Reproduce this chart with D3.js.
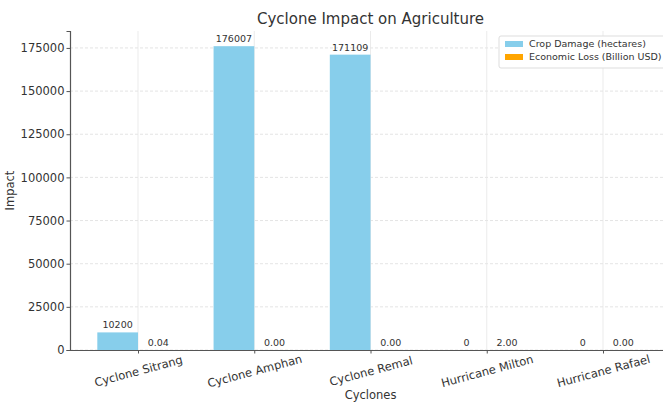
<!DOCTYPE html>
<html><head><meta charset="utf-8">
<script src="https://cdn.jsdelivr.net/npm/d3@7"></script>
<style>body{margin:0;background:#fff}svg{font-family:"DejaVu Sans",sans-serif}</style>
</head><body>
<script>
const categories = ["Cyclone Sitrang","Cyclone Amphan","Cyclone Remal","Hurricane Milton","Hurricane Rafael"];
const cropDamage = [10200,176007,171109,0,0];
const economicLoss = [0.04,0.00,0.00,2.00,0.00];
const yTicks = [0,25000,50000,75000,100000,125000,150000,175000];
const seriesNames = ["Crop Damage (hectares)","Economic Loss (Billion USD)"];
const colors = ["#87CEEB","#FFA500"];

const W=663,H=403;
const m={left:70,right:-8,top:31,bottom:53};
const svg=d3.select("body").append("svg").attr("width",W).attr("height",H);
const iw=W-m.left-m.right, ih=H-m.top-m.bottom;
const g=svg.append("g").attr("transform",`translate(${m.left},${m.top})`);

const bw=0.35;
const x=d3.scaleLinear().domain([-bw-0.235, 4+bw+0.235]).range([0,iw]);
const ymax=d3.max(cropDamage)*1.05;
const y=d3.scaleLinear().domain([0,ymax]).range([ih,0]);
const unit=x(1)-x(0);

// grid
g.append("g").selectAll("line").data(yTicks).join("line")
 .attr("x1",0).attr("x2",iw).attr("y1",d=>y(d)).attr("y2",d=>y(d))
 .attr("stroke","#ddd").attr("stroke-width",0.8).attr("stroke-dasharray","3,2");
g.append("g").selectAll("line").data(categories).join("line")
 .attr("x1",(d,i)=>x(i)).attr("x2",(d,i)=>x(i)).attr("y1",0).attr("y2",ih)
 .attr("stroke","#e6e6e6").attr("stroke-width",0.8);

// bars
g.selectAll(".crop").data(cropDamage).join("rect")
 .attr("x",(d,i)=>x(i-bw)).attr("width",bw*unit)
 .attr("y",d=>y(d)).attr("height",d=>ih-y(d)).attr("fill",colors[0]);
g.selectAll(".econ").data(economicLoss).join("rect")
 .attr("x",(d,i)=>x(i)).attr("width",bw*unit)
 .attr("y",d=>y(d)).attr("height",d=>ih-y(d)).attr("fill",colors[1]);

// value labels
g.selectAll(".cl").data(cropDamage).join("text")
 .attr("x",(d,i)=>x(i-bw/2)).attr("y",d=>y(d)-4).attr("text-anchor","middle")
 .attr("font-size",9.5).attr("fill","#333").text(d=>d3.format("d")(d));
g.selectAll(".el").data(economicLoss).join("text")
 .attr("x",(d,i)=>x(i+bw/2)).attr("y",d=>y(d)-4).attr("text-anchor","middle")
 .attr("font-size",9.5).attr("fill","#333").text(d=>d.toFixed(2));

// axes
const ya=g.append("g").call(d3.axisLeft(y).tickValues(yTicks).tickFormat(d3.format("d")).tickSize(3.5).tickPadding(2));
ya.select(".domain").attr("stroke","#555").attr("stroke-width",1.2);
ya.selectAll(".tick line").attr("stroke","#555");
ya.selectAll("text").attr("font-size",11.5).attr("fill","#333").attr("font-family","DejaVu Sans");

const xa=g.append("g").attr("transform",`translate(0,${ih})`)
 .call(d3.axisBottom(x).tickValues(d3.range(categories.length)).tickFormat(i=>categories[i]).tickSize(3.5).tickSizeOuter(0));
xa.select(".domain").attr("stroke","#555").attr("stroke-width",1.2);
xa.selectAll(".tick line").attr("stroke","#555");
xa.selectAll("text").attr("font-size",11.5).attr("fill","#333").attr("font-family","DejaVu Sans")
 .attr("text-anchor","middle").attr("x",0).attr("y",0).attr("dy","0.35em")
 .attr("transform","translate(0,21) rotate(-15)");

// axis titles
svg.append("text").attr("x",m.left+iw/2).attr("y",H-4).attr("text-anchor","middle")
 .attr("font-size",11.5).attr("fill","#333").text("Cyclones");
svg.append("text").attr("transform",`translate(14,${m.top+ih/2}) rotate(-90)`).attr("text-anchor","middle")
 .attr("font-size",11.5).attr("fill","#333").text("Impact");
svg.append("text").attr("x",m.left+iw/2).attr("y",24).attr("text-anchor","middle")
 .attr("font-size",15).attr("fill","#333").text("Cyclone Impact on Agriculture");

// legend
const lg=svg.append("g").attr("transform","translate(499,36)");
lg.append("rect").attr("width",170).attr("height",32).attr("fill","#fff").attr("stroke","#ddd").attr("rx",2);
seriesNames.forEach((s,i)=>{
 lg.append("rect").attr("x",6).attr("y",5+i*13).attr("width",18).attr("height",6).attr("fill",colors[i]);
 lg.append("text").attr("x",30).attr("y",11+i*13).attr("font-size",9.5).attr("fill","#333").text(s);
});
</script>
</body></html>
